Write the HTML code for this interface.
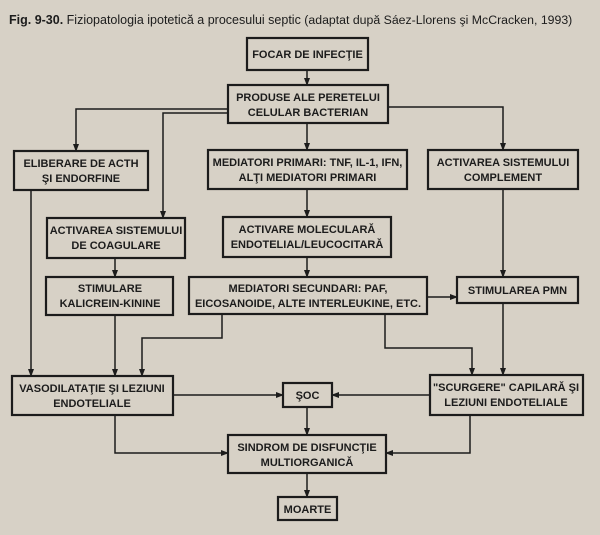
<!DOCTYPE html>
<html><head><meta charset="utf-8"><style>
html,body{margin:0;padding:0;background:#d7d1c6;}
svg{display:block;}
text{font-family:"Liberation Sans",Arial,sans-serif;fill:#1c1c1c;}
.b{font-weight:bold;font-size:11px;}
</style></head><body>
<svg width="600" height="535" viewBox="0 0 600 535" xmlns="http://www.w3.org/2000/svg">
<defs><marker id="a" markerWidth="8" markerHeight="8" refX="7" refY="4" orient="auto" markerUnits="userSpaceOnUse"><path d="M0,1 L8,4 L0,7 Z" fill="#1c1c1c"/></marker></defs>
<rect width="600" height="535" fill="#d7d1c6"/>
<text x="9" y="24" font-size="12.5"><tspan font-weight="bold">Fig. 9-30.</tspan> Fiziopatologia ipotetică a procesului septic <tspan font-size="11.5" textLength="268" lengthAdjust="spacingAndGlyphs">(adaptat după Sáez-Llorens şi McCracken, 1993)</tspan></text>
<g fill="none" stroke="#1c1c1c" stroke-width="2.2">
<rect x="247" y="38" width="121" height="32"/>
<rect x="228" y="85" width="160" height="38"/>
<rect x="14" y="151" width="134" height="39"/>
<rect x="208" y="150" width="199" height="39"/>
<rect x="428" y="150" width="150" height="39"/>
<rect x="47" y="218" width="138" height="40"/>
<rect x="223" y="217" width="168" height="40"/>
<rect x="46" y="277" width="127" height="38"/>
<rect x="189" y="277" width="238" height="37"/>
<rect x="457" y="277" width="121" height="26"/>
<rect x="12" y="376" width="161" height="39"/>
<rect x="283" y="383" width="49" height="24"/>
<rect x="430" y="375" width="153" height="40"/>
<rect x="228" y="435" width="158" height="38"/>
<rect x="278" y="497" width="59" height="23"/>
</g>
<g fill="none" stroke="#1c1c1c" stroke-width="1.5" marker-end="url(#a)">
<path d="M307,70 V85"/>
<path d="M228,109 H76 V151"/>
<path d="M228,113 H163 V218"/>
<path d="M388,107 H503 V150"/>
<path d="M307,123 V150"/>
<path d="M307,189 V217"/>
<path d="M307,257 V277"/>
<path d="M31,190 V376"/>
<path d="M115,258 V277"/>
<path d="M115,315 V376"/>
<path d="M222,314 V338 H142 V376"/>
<path d="M503,189 V277"/>
<path d="M427,297 H457"/>
<path d="M503,303 V375"/>
<path d="M385,314 V348 H472 V375"/>
<path d="M173,395 H283"/>
<path d="M430,395 H332"/>
<path d="M307,407 V435"/>
<path d="M115,415 V453 H228"/>
<path d="M470,415 V453 H386"/>
<path d="M307,473 V497"/>
</g>
<g class="b" text-anchor="middle">
<text x="307.5" y="58" class="b">FOCAR DE INFECŢIE</text>
<text x="308" y="101" class="b">PRODUSE  ALE PERETELUI</text>
<text x="308" y="116" class="b">CELULAR BACTERIAN</text>
<text x="81" y="167" class="b">ELIBERARE DE ACTH</text>
<text x="81" y="182" class="b">ŞI ENDORFINE</text>
<text x="307.5" y="166" class="b">MEDIATORI PRIMARI: TNF, IL-1, IFN,</text>
<text x="307.5" y="181" class="b">ALŢI MEDIATORI PRIMARI</text>
<text x="503" y="166" class="b">ACTIVAREA SISTEMULUI</text>
<text x="503" y="181" class="b">COMPLEMENT</text>
<text x="116" y="234" class="b">ACTIVAREA SISTEMULUI</text>
<text x="116" y="249" class="b">DE COAGULARE</text>
<text x="307" y="233" class="b">ACTIVARE MOLECULARĂ</text>
<text x="307" y="248" class="b">ENDOTELIAL/LEUCOCITARĂ</text>
<text x="110" y="292" class="b">STIMULARE</text>
<text x="110" y="307" class="b">KALICREIN-KININE</text>
<text x="308" y="292" class="b">MEDIATORI SECUNDARI: PAF,</text>
<text x="308" y="307" class="b">EICOSANOIDE, ALTE INTERLEUKINE, ETC.</text>
<text x="517.5" y="294" class="b">STIMULAREA PMN</text>
<text x="92" y="392" class="b">VASODILATAŢIE ŞI LEZIUNI</text>
<text x="92" y="407" class="b">ENDOTELIALE</text>
<text x="307.5" y="399" class="b">ŞOC</text>
<text x="506" y="391" class="b">"SCURGERE" CAPILARĂ ŞI</text>
<text x="506" y="406" class="b">LEZIUNI ENDOTELIALE</text>
<text x="307" y="451" class="b">SINDROM DE DISFUNCŢIE</text>
<text x="307" y="466" class="b">MULTIORGANICĂ</text>
<text x="307.5" y="513" class="b">MOARTE</text>
</g>
</svg>
</body></html>
